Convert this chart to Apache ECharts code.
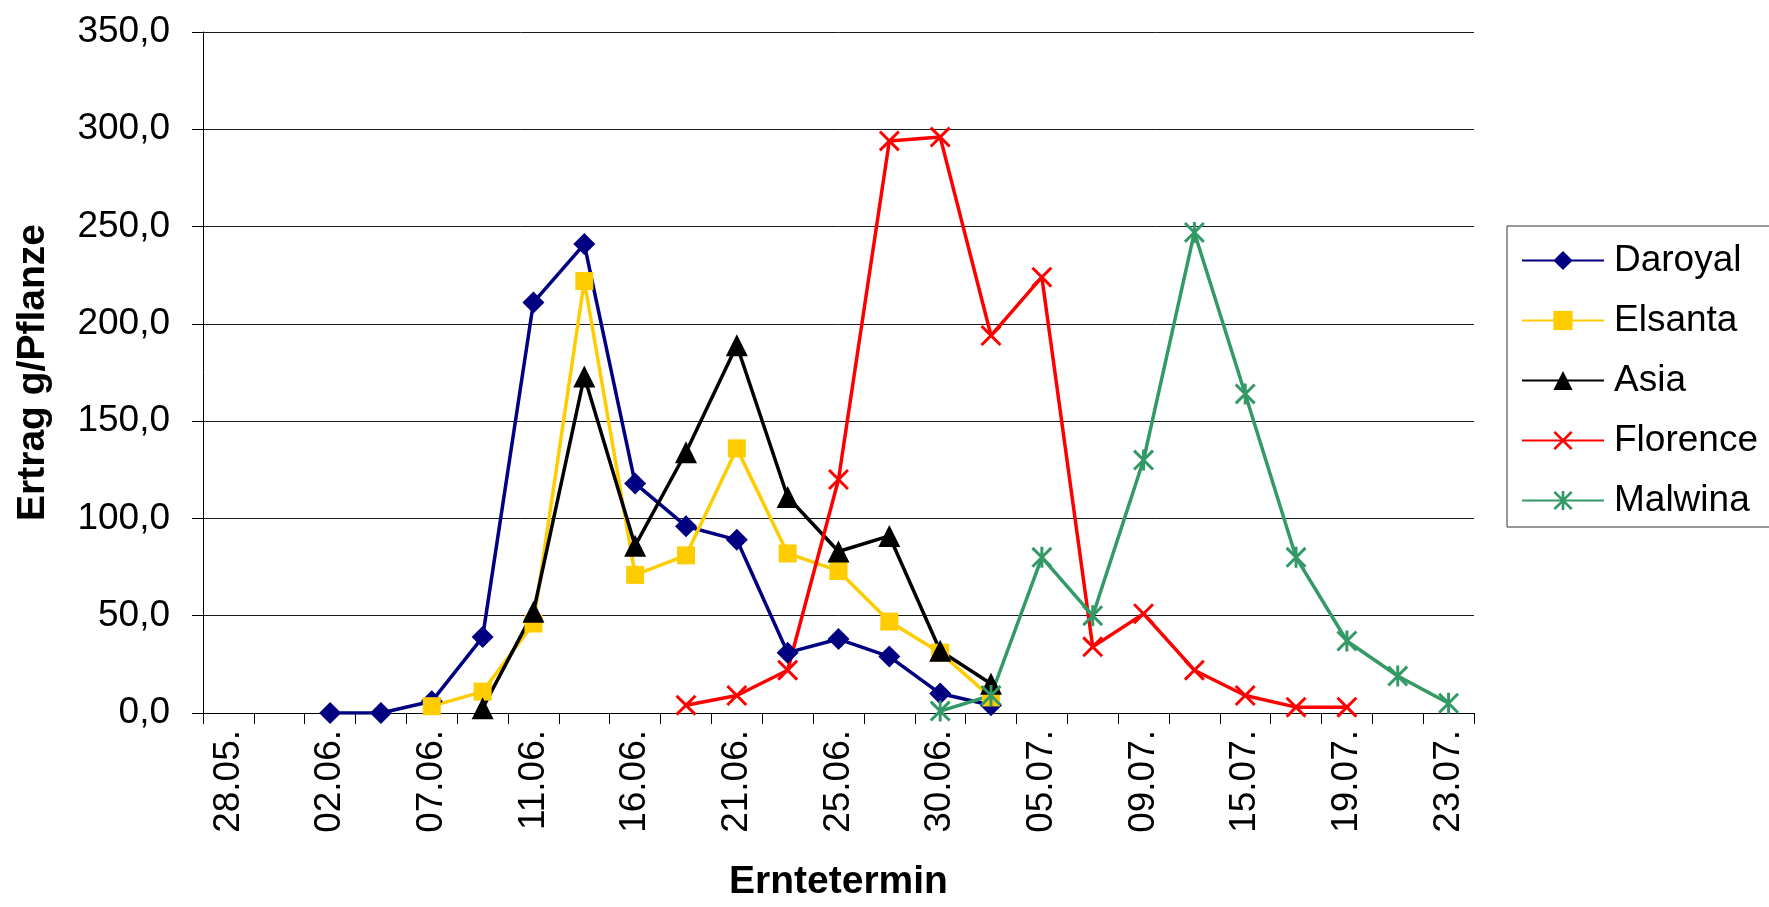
<!DOCTYPE html>
<html>
<head>
<meta charset="utf-8">
<script src="https://cdn.jsdelivr.net/npm/echarts@6/dist/echarts.min.js"></script>
<style>
html,body{margin:0;padding:0;background:#fff;}
#chart{width:1769px;height:907px;}
</style>
</head>
<body>
<div id="chart"></div>
<script>
var categories = ['28.05.','31.05.','02.06.','04.06.','07.06.','09.06.','11.06.','14.06.','16.06.','18.06.','21.06.','23.06.','25.06.','28.06.','30.06.','02.07.','05.07.','07.07.','09.07.','12.07.','15.07.','17.07.','19.07.','21.07.','23.07.'];
var yTicks = [0, 50, 100, 150, 200, 250, 300, 350];
var daroyal  = [null,null,0,0,6,39,211,241,118,96,89,31,38,29,10,4,null,null,null,null,null,null,null,null,null];
var elsanta  = [null,null,null,null,3.5,11,46,222,71,81,136,82,73,47,31,8,null,null,null,null,null,null,null,null,null];
var asia     = [null,null,null,null,null,2.5,52,173,86,134,189,111,83,91,32,15,null,null,null,null,null,null,null,null,null];
var florence = [null,null,null,null,null,null,null,null,null,4,9,22,120,294,296,194,224,34,51,22,9,3,3,null,null];
var malwina  = [null,null,null,null,null,null,null,null,null,null,null,null,null,null,1,9,80,50,130,247,164,80,37,19,5];

var FONT = '"Liberation Sans", Arial, Helvetica, sans-serif';
var crossPath = 'path://M0,1L1,0L10,9L9,10ZM9,0L10,1L1,10L0,9Z';
var starPath = 'path://M0,1L1,0L10,9L9,10ZM9,0L10,1L1,10L0,9ZM4.3,0L5.7,0L5.7,10L4.3,10Z';

function mk(name, data, color, symbol, size) {
  return {
    name: name, type: 'line', data: data,
    symbol: symbol, symbolSize: size,
    showAllSymbol: true,
    lineStyle: {color: color, width: 3.5},
    itemStyle: {color: color, borderWidth: 0},
    emphasis: {disabled: true},
    animation: false
  };
}

var chart = echarts.init(document.getElementById('chart'), null, {renderer: 'canvas'});
chart.setOption({
  backgroundColor: '#fff',
  animation: false,
  grid: {left: 203, right: 295, top: 32, bottom: 185, containLabel: false},
  legend: {
    orient: 'vertical',
    left: 1507, top: 226,
    itemWidth: 82, itemHeight: 24, itemGap: 23,
    padding: [16, 14, 8, 14],
    borderColor: '#333', borderWidth: 1,
    textStyle: {fontFamily: FONT, fontSize: 37, color: '#000', padding: [0, 0, 0, 5]},
    data: ['Daroyal', 'Elsanta', 'Asia', 'Florence', 'Malwina']
  },
  xAxis: {
    type: 'category',
    data: categories,
    boundaryGap: true,
    name: 'Erntetermin',
    nameLocation: 'middle',
    nameGap: 150,
    nameTextStyle: {fontFamily: FONT, fontSize: 39, fontWeight: 'bold', color: '#000'},
    axisLine: {lineStyle: {color: '#000', width: 1}},
    axisTick: {show: true, interval: 0, length: 11, lineStyle: {color: '#000'}},
    axisLabel: {interval: 1, rotate: 90, margin: 17, fontFamily: FONT, fontSize: 37, color: '#000'},
    splitLine: {show: false}
  },
  yAxis: {
    type: 'value',
    min: yTicks[0], max: yTicks[yTicks.length - 1], interval: 50,
    name: 'Ertrag g/Pflanze',
    nameLocation: 'middle',
    nameGap: 150,
    nameTextStyle: {fontFamily: FONT, fontSize: 39, fontWeight: 'bold', color: '#000'},
    axisLine: {show: true, lineStyle: {color: '#000', width: 1}},
    axisTick: {show: true, length: 11, lineStyle: {color: '#000'}},
    axisLabel: {margin: 33, fontFamily: FONT, fontSize: 37, color: '#000',
      formatter: function (v) { return v.toFixed(1).replace('.', ','); }},
    splitLine: {show: true, lineStyle: {color: '#1a1a1a', width: 1}}
  },
  series: [
    mk('Daroyal', daroyal, '#000080', 'diamond', 22),
    mk('Elsanta', elsanta, '#FFCC00', 'rect', 18),
    mk('Asia', asia, '#000000', 'triangle', 22),
    mk('Florence', florence, '#FF0000', crossPath, 21),
    mk('Malwina', malwina, '#339966', starPath, 21)
  ]
});
</script>
</body>
</html>
